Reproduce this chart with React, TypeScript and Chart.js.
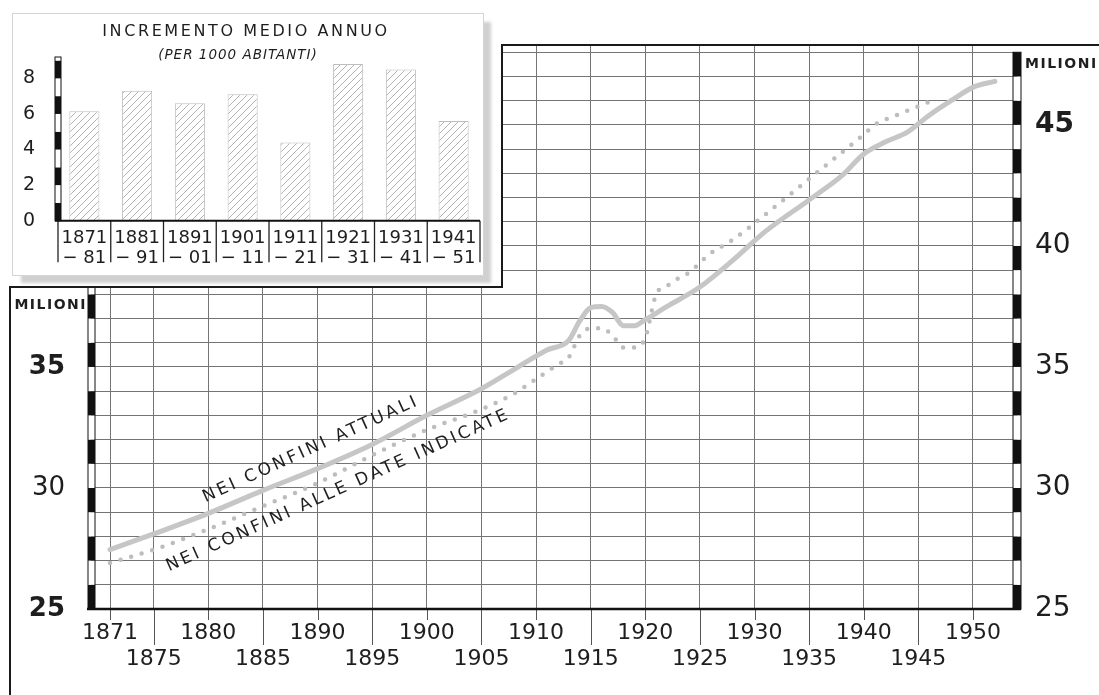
import React, { useEffect, useRef } from 'react';
import { Chart, registerables } from 'chart.js';

Chart.register(...registerables);

const FONT = '"DejaVu Sans", "Liberation Sans", sans-serif';
const INK = '#1e1e1e';

// ---------- main chart: popolazione (milioni) ----------
const yearsAttuali = [1871, 1875, 1880, 1885, 1890, 1895, 1900, 1905, 1908, 1911, 1913, 1914, 1915, 1916, 1917, 1918, 1919, 1920, 1922, 1925, 1928, 1931, 1935, 1938, 1940, 1942, 1944, 1946, 1948, 1950, 1952];
const popAttuali = [27.45, 28.1, 28.95, 29.9, 30.8, 31.8, 33.0, 34.1, 34.9, 35.7, 36.1, 36.9, 37.45, 37.5, 37.25, 36.7, 36.7, 36.95, 37.5, 38.3, 39.4, 40.6, 41.9, 42.9, 43.8, 44.3, 44.7, 45.4, 46.0, 46.55, 46.8];

const yearsDate = [1871, 1875, 1880, 1885, 1890, 1895, 1900, 1905, 1908, 1910, 1912, 1913, 1914, 1915, 1916, 1917, 1918, 1919, 1920, 1921, 1922, 1923, 1924, 1926, 1928, 1931, 1934, 1937, 1940, 1941, 1943, 1946];
const popDate = [26.9, 27.45, 28.3, 29.25, 30.2, 31.35, 32.4, 33.25, 33.9, 34.5, 35.1, 35.4, 36.3, 36.6, 36.6, 36.3, 35.8, 35.8, 36.2, 38.0, 38.35, 38.65, 38.9, 39.7, 40.25, 41.3, 42.4, 43.5, 44.6, 45.0, 45.4, 45.95];

const xTickYears = [1871, 1875, 1880, 1885, 1890, 1895, 1900, 1905, 1910, 1915, 1920, 1925, 1930, 1935, 1940, 1945, 1950];
const lowerRowYears = [1875, 1885, 1895, 1905, 1915, 1925, 1935, 1945];
const yGridValues = [25, 26, 27, 28, 29, 30, 31, 32, 33, 34, 35, 36, 37, 38, 39, 40, 41, 42, 43, 44, 45, 46, 47, 48];
const rightLabels = [25, 30, 35, 40, 45];
const boldRightLabels = [45];
const leftLabels = [25, 30, 35];
const boldLeftLabels = [25, 35];
const axisTitle = 'MILIONI';

const lineLabels = ['NEI CONFINI ATTUALI', 'NEI CONFINI ALLE DATE INDICATE'];
const lineLabelYears = [1889.4, 1891.9];
const lineLabelValues = [31.6, 29.9];
const lineLabelAngles = [-24.5, -24.2];

const X_MIN = 1869.26;
const X_MAX = 1954.03;
const Y_MIN = 25;
const Y_MAX = 48.3;
const RIGHT_STRIPE_TOP = 48;

// ---------- inset: incremento medio annuo ----------
const insetTitle = 'INCREMENTO MEDIO ANNUO';
const insetSubtitle = '(PER 1000 ABITANTI)';
const periodStart = ['1871', '1881', '1891', '1901', '1911', '1921', '1931', '1941'];
const periodEnd = ['\u2212 81', '\u2212 91', '\u2212 01', '\u2212 11', '\u2212 21', '\u2212 31', '\u2212 41', '\u2212 51'];
const incrValues = [6.15, 7.3, 6.6, 7.1, 4.4, 8.8, 8.5, 5.6];
const incrTicks = [0, 2, 4, 6, 8];
const INSET_MAX = 9.2;

// layout constants (pixels)
const W = 1099;
const H = 695;
const CUT_X = 502;
const CUT_Y = 287;

function drawStripe(ctx: CanvasRenderingContext2D, yScale: any, cx: number, w: number, vFrom: number, vTo: number, base: number) {
  for (let v = vFrom; v < vTo; v++) {
    const top = yScale.getPixelForValue(Math.min(v + 1, vTo));
    const bot = yScale.getPixelForValue(v);
    ctx.fillStyle = (v - base) % 2 === 0 ? '#111' : '#fff';
    ctx.fillRect(cx - w / 2, top, w, bot - top);
  }
  const t = yScale.getPixelForValue(vTo);
  const b = yScale.getPixelForValue(vFrom);
  ctx.strokeStyle = '#111';
  ctx.lineWidth = 1;
  ctx.strokeRect(cx - w / 2, t, w, b - t);
}

const mainDecor = {
  id: 'mainDecor',
  afterDatasetsDraw(chart: any) {
    const { ctx, chartArea: ca, scales } = chart;
    const xs = scales.x;
    const ys = scales.y;
    ctx.save();
    // area covered by the inset
    ctx.fillStyle = '#fff';
    ctx.fillRect(0, 0, CUT_X, CUT_Y);

    // labels along the curves
    ctx.fillStyle = INK;
    ctx.font = `17px ${FONT}`;
    ctx.textAlign = 'center';
    ctx.textBaseline = 'middle';
    (ctx as any).letterSpacing = '3px';
    lineLabels.forEach((txt, i) => {
      ctx.save();
      ctx.translate(xs.getPixelForValue(lineLabelYears[i]), ys.getPixelForValue(lineLabelValues[i]));
      ctx.rotate((lineLabelAngles[i] * Math.PI) / 180);
      ctx.fillText(txt, 0, 0);
      ctx.restore();
    });
    (ctx as any).letterSpacing = '0px';

    // tick marks below the x axis
    ctx.strokeStyle = '#555';
    ctx.lineWidth = 1;
    xTickYears.forEach((yr) => {
      const px = Math.round(xs.getPixelForValue(yr)) + 0.5;
      ctx.beginPath();
      ctx.moveTo(px, ca.bottom);
      ctx.lineTo(px, ca.bottom + (lowerRowYears.includes(yr) ? 36 : 11));
      ctx.stroke();
    });

    // bottom axis line
    ctx.strokeStyle = '#111';
    ctx.lineWidth = 2.5;
    ctx.beginPath();
    ctx.moveTo(ca.left - 4, ca.bottom);
    ctx.lineTo(ca.right + 4, ca.bottom);
    ctx.stroke();

    // striped value axes
    const leftTop = ys.getValueForPixel(CUT_Y);
    drawStripe(ctx, ys, ca.left + 0.5, 7, Y_MIN, leftTop, Y_MIN);
    drawStripe(ctx, ys, ca.right, 8, Y_MIN, RIGHT_STRIPE_TOP, Y_MIN);

    // frame
    ctx.strokeStyle = '#1a1a1a';
    ctx.lineWidth = 2;
    ctx.beginPath();
    ctx.moveTo(10, H);
    ctx.lineTo(10, CUT_Y);
    ctx.lineTo(CUT_X, CUT_Y);
    ctx.lineTo(CUT_X, ca.top);
    ctx.lineTo(W, ca.top);
    ctx.stroke();

    // axis titles
    ctx.fillStyle = INK;
    ctx.font = `bold 14px ${FONT}`;
    (ctx as any).letterSpacing = '1.5px';
    ctx.textBaseline = 'middle';
    ctx.textAlign = 'right';
    ctx.fillText(axisTitle, ca.left - 4, ys.getPixelForValue(37.55));
    ctx.textAlign = 'left';
    ctx.fillText(axisTitle, ca.right + 8, ys.getPixelForValue(47.5));
    (ctx as any).letterSpacing = '0px';
    ctx.restore();
  },
};

const insetDecor = {
  id: 'insetDecor',
  afterDraw(chart: any) {
    const { ctx, chartArea: ca, scales } = chart;
    const ys = scales.y;
    ctx.save();
    ctx.fillStyle = INK;
    ctx.textAlign = 'center';
    ctx.textBaseline = 'middle';
    ctx.font = `16px ${FONT}`;
    (ctx as any).letterSpacing = '2.6px';
    ctx.fillText(insetTitle, 233, 18);
    ctx.font = `italic 13.5px ${FONT}`;
    (ctx as any).letterSpacing = '1px';
    ctx.fillText(insetSubtitle, 225, 41);
    (ctx as any).letterSpacing = '0px';

    // separators of the period table
    ctx.strokeStyle = '#222';
    ctx.lineWidth = 1.3;
    const n = periodStart.length;
    for (let k = 0; k <= n; k++) {
      const px = ca.left + (k * (ca.right - ca.left)) / n;
      ctx.beginPath();
      ctx.moveTo(px, ca.bottom);
      ctx.lineTo(px, ca.bottom + 41.5);
      ctx.stroke();
    }
    // baseline
    ctx.strokeStyle = '#111';
    ctx.lineWidth = 2;
    ctx.beginPath();
    ctx.moveTo(ca.left - 3, ca.bottom);
    ctx.lineTo(ca.right, ca.bottom);
    ctx.stroke();
    // striped axis
    drawStripe(ctx, ys, ca.left, 6, 0, INSET_MAX, 0);
    ctx.restore();
  },
};

function makeHatch(): CanvasPattern | string {
  const c = document.createElement('canvas');
  c.width = 7;
  c.height = 7;
  const g = c.getContext('2d');
  if (!g) return '#ddd';
  g.fillStyle = '#ffffff';
  g.fillRect(0, 0, 7, 7);
  g.strokeStyle = '#b3b3b3';
  g.lineWidth = 1;
  g.beginPath();
  g.moveTo(0, 7);
  g.lineTo(7, 0);
  g.moveTo(-1, 1);
  g.lineTo(1, -1);
  g.moveTo(6, 8);
  g.lineTo(8, 6);
  g.stroke();
  return g.createPattern(c, 'repeat') || '#ddd';
}

export default function App() {
  const mainRef = useRef<HTMLCanvasElement>(null);
  const insetRef = useRef<HTMLCanvasElement>(null);

  useEffect(() => {
    const main = new Chart(mainRef.current as HTMLCanvasElement, {
      type: 'line',
      data: {
        datasets: [
          {
            label: 'Nei confini attuali',
            data: yearsAttuali.map((yr, i) => ({ x: yr, y: popAttuali[i] })),
            borderColor: '#c6c6c6',
            borderWidth: 5,
            pointRadius: 0,
            cubicInterpolationMode: 'monotone',
            borderCapStyle: 'round',
            borderJoinStyle: 'round',
            yAxisID: 'y',
          },
          {
            label: 'Nei confini alle date indicate',
            data: yearsDate.map((yr, i) => ({ x: yr, y: popDate[i] })),
            borderColor: '#bdbdbd',
            borderWidth: 4.5,
            borderDash: [0, 11],
            borderCapStyle: 'round',
            pointRadius: 0,
            cubicInterpolationMode: 'monotone',
            yAxisID: 'y',
          },
        ],
      } as any,
      options: {
        responsive: false,
        animation: false,
        events: [],
        layout: { padding: { top: 45, left: 0, right: 0, bottom: 0 } },
        plugins: { legend: { display: false }, tooltip: { enabled: false } },
        scales: {
          x: {
            type: 'linear',
            min: X_MIN,
            max: X_MAX,
            position: 'bottom',
            afterBuildTicks: (s: any) => {
              s.ticks = xTickYears.map((v) => ({ value: v }));
            },
            grid: { color: '#747474', lineWidth: 1, drawTicks: false },
            border: { display: false },
            ticks: {
              autoSkip: false,
              maxRotation: 0,
              minRotation: 0,
              padding: 11,
              color: INK,
              font: { family: FONT, size: 22, lineHeight: 1.2 },
              callback: (v: any) => (lowerRowYears.includes(v) ? ['', String(v)] : String(v)),
            },
            afterFit: (s: any) => {
              s.height = H - 609;
            },
          },
          y: {
            type: 'linear',
            position: 'right',
            min: Y_MIN,
            max: Y_MAX,
            afterBuildTicks: (s: any) => {
              s.ticks = yGridValues.map((v) => ({ value: v }));
            },
            grid: { color: '#747474', lineWidth: 1, drawTicks: false },
            border: { display: false },
            ticks: {
              autoSkip: false,
              padding: 18,
              color: INK,
              font: (c: any) => ({ family: FONT, size: 28, weight: boldRightLabels.includes(c.tick && c.tick.value) ? 'bold' : 'normal' }),
              callback: (v: any) => (rightLabels.includes(v) ? String(v) : ''),
            },
            afterFit: (s: any) => {
              s.width = W - 1017;
            },
          },
          yL: {
            type: 'linear',
            axis: 'y',
            position: 'left',
            min: Y_MIN,
            max: Y_MAX,
            afterBuildTicks: (s: any) => {
              s.ticks = leftLabels.map((v) => ({ value: v }));
            },
            grid: { display: false },
            border: { display: false },
            ticks: {
              autoSkip: false,
              padding: 18,
              color: INK,
              font: (c: any) => ({ family: FONT, size: 26, weight: boldLeftLabels.includes(c.tick && c.tick.value) ? 'bold' : 'normal' }),
              callback: (v: any) => String(v),
            },
            afterFit: (s: any) => {
              s.width = 91;
            },
          },
        },
      } as any,
      plugins: [mainDecor],
    });

    const inset = new Chart(insetRef.current as HTMLCanvasElement, {
      type: 'bar',
      data: {
        labels: periodStart.map((s, i) => [s, periodEnd[i]]),
        datasets: [
          {
            data: incrValues,
            backgroundColor: makeHatch(),
            borderColor: '#bdbdbd',
            borderWidth: 1,
            barPercentage: 0.57,
            categoryPercentage: 1,
          },
        ],
      } as any,
      options: {
        responsive: false,
        animation: false,
        events: [],
        layout: { padding: { top: 43, right: 3, left: 0, bottom: 0 } },
        plugins: { legend: { display: false }, tooltip: { enabled: false } },
        scales: {
          x: {
            grid: { display: false },
            border: { display: false },
            ticks: {
              autoSkip: false,
              maxRotation: 0,
              minRotation: 0,
              padding: 0,
              color: INK,
              font: { family: FONT, size: 18, lineHeight: 1.1 },
            },
            afterFit: (s: any) => {
              s.height = 54.3;
            },
          },
          y: {
            min: 0,
            max: INSET_MAX,
            afterBuildTicks: (s: any) => {
              s.ticks = incrTicks.map((v) => ({ value: v }));
            },
            grid: { display: false },
            border: { display: false },
            ticks: { autoSkip: false, padding: 15, color: INK, font: { family: FONT, size: 19 } },
            afterFit: (s: any) => {
              s.width = 45;
            },
          },
        },
      } as any,
      plugins: [insetDecor],
    });

    return () => {
      main.destroy();
      inset.destroy();
    };
  }, []);

  return (
    <div style={{ position: 'fixed', left: 0, top: 0, width: W, height: H, background: '#fff', overflow: 'hidden' }}>
      <canvas ref={mainRef} width={W} height={H} style={{ position: 'absolute', left: 0, top: 0, width: W, height: H }} />
      <div
        style={{
          position: 'absolute',
          left: 13,
          top: 14,
          width: 470,
          height: 261,
          background: '#fff',
          outline: '1px solid #d4d4d4',
          boxShadow: '8px 8px 3px #d0d0d0',
        }}
      >
        <canvas ref={insetRef} width={470} height={261} style={{ width: 470, height: 261, display: 'block' }} />
      </div>
    </div>
  );
}
